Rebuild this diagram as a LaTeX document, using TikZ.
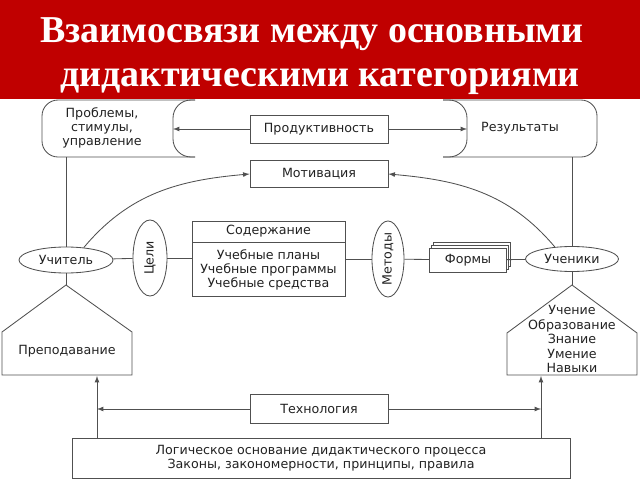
\documentclass[tikz,border=0pt]{standalone}
\usepackage{fontspec}
\setmainfont{Liberation Serif}
\newfontfamily\dfont{DejaVu Sans}
\usetikzlibrary{shapes,arrows,shadows,positioning,calc}
\definecolor{titlered}{HTML}{C00000}
\definecolor{linec}{HTML}{505050}
\definecolor{txtc}{HTML}{222222}
\tikzset{
  box/.style={draw=linec, fill=white, line width=0.6pt, text=txtc,
    font=\dfont\fontsize{9}{10.2}\selectfont, align=center, inner sep=0pt},
  oval/.style={box, ellipse},
  link/.style={draw=linec, line width=0.6pt},
  frame/.style={draw=linec, line width=0.6pt},
}

\begin{document}
\begin{tikzpicture}[x=0.025cm, y=-0.025cm, >=latex]
        \useasboundingbox (0,0) rectangle (640,480);

        % title band
        \fill[titlered] (0,0) rectangle (640,99);
        \node (title1) [anchor=base, text=white, font=\bfseries\fontsize{27}{30}\selectfont] at (312,42.7) {Взаимосвязи между основными};
        \node (title2) [anchor=base, text=white, font=\bfseries\fontsize{27}{30}\selectfont] at (320,87) {дидактическими категориями};

        % top bracket boxes
        \draw[frame, rounded corners=0.4cm] (195,100) -- (42,100) -- (42,157) -- (195,157);
        \draw[frame, rounded corners=0.45cm] (195,100) -- (173,100) -- (173,157) -- (195,157);
        \node (problems) [box, draw=none, fill=none] at (102,128) {Проблемы,\\стимулы,\\управление};
        \coordinate (probin) at (173,129);
        \coordinate (probfoot) at (66,157);

        \draw[frame, rounded corners=0.4cm] (443,100) -- (597,100) -- (597,157) -- (443,157);
        \draw[frame, rounded corners=0.45cm] (443,100) -- (467,100) -- (467,157) -- (443,157);
        \node (results) [box, draw=none, fill=none] at (520,128) {Результаты};
        \coordinate (resin) at (467,129);
        \coordinate (resfoot) at (572,157);

        \node (prod) [box, minimum width=3.45cm, minimum height=0.7cm] at (319,129) {Продуктивность};
        \node (motiv) [box, minimum width=3.45cm, minimum height=0.675cm] at (319,174) {Мотивация};

        % middle row
        \node (teacher) [oval, minimum width=2.35cm, minimum height=0.65cm] at (66,260) {Учитель};
        \node (goals) [oval, minimum width=0.85cm, minimum height=1.9cm] at (150,258) {\rotatebox{90}{Цели}};
        \node (content) [box, minimum width=3.825cm, minimum height=0.525cm] at (268.5,231.5) {Содержание};
        \node (plans) [box, below=0pt of content, minimum width=3.825cm, minimum height=1.35cm]
        {Учебные планы\\Учебные программы\\Учебные средства};
        \node (methods) [oval, minimum width=0.8cm, minimum height=1.9cm] at (388,259) {\rotatebox{90}{Методы}};
        \node (forms) [box, double copy shadow={shadow xshift=1.5pt, shadow yshift=2pt},
        minimum width=1.925cm, minimum height=0.6cm] at (468,260) {Формы};
        \node (pupils) [oval, minimum width=2.325cm, minimum height=0.625cm] at (572,259) {Ученики};

        % houses
        \coordinate (teachtop) at (66,285);
        \draw[frame] (2,375) -- (2,332) -- (teachtop) -- (132,332) -- (132,375) -- cycle;
        \node (teach) [box, draw=none, fill=none] at (67,351) {Преподавание};

        \coordinate (learntop) at (572,285);
        \draw[frame] (507,375) -- (507,333) -- (learntop) -- (637,333) -- (637,375) -- cycle;
        \node (learn) [box, draw=none, fill=none, font=\dfont\fontsize{9}{10.3}\selectfont] at (572,339)
        {Учение\\Образование\\Знание\\Умение\\Навыки};

        % bottom
        \node (tech) [box, minimum width=3.45cm, minimum height=0.725cm] at (319,409) {Технология};
        \node (base) [box, minimum width=12.45cm, minimum height=1.0cm] at (321,458)
        {Логическое основание дидактического процесса\\Законы, закономерности, принципы, правила};
        \coordinate (lup) at (97,376);
        \coordinate (rup) at (541,376);

        % connectors
        \draw[link,->] (prod) -- (probin);
        \draw[link,->] (prod) -- (resin);
        \draw[link] (probfoot) -- (teacher);
        \draw[link] (resfoot) -- (pupils);
        \draw[link,->] (teacher.35) to[out=50, in=185] (motiv.west);
        \draw[link,->] (pupils.145) to[out=130, in=-5] (motiv.east);
        \draw[link] (teacher) -- (goals);
        \draw[link] (goals) -- (goals -| plans.west);
        \draw[link] (methods) -- (methods -| plans.east);
        \draw[link] (methods) -- (forms);
        \draw[link] (forms) -- (pupils);
        \draw[link] (teacher) -- (teachtop);
        \draw[link] (pupils) -- (learntop);
        \draw[link,->] (base.north -| lup) -- (lup);
        \draw[link,->] (base.north -| rup) -- (rup);
        \draw[link,->] (tech) -- (tech -| lup);
        \draw[link,->] (tech) -- (tech -| rup);
\end{tikzpicture}
\end{document}
